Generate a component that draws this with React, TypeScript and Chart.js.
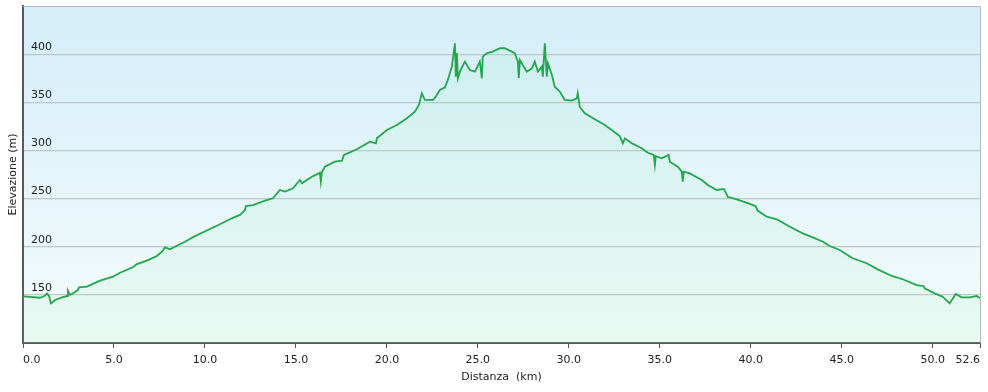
import { useEffect, useRef } from "react";
import { Chart, registerables } from "chart.js";

Chart.register(...registerables);

// Distance along the route (km)
const distanceKm = [
  0.0, 0.38, 0.93, 1.21, 1.32, 1.43, 1.54, 1.76, 2.14, 2.42, 2.47, 2.58, 2.69, 3.02, 3.08, 3.52,
  4.23, 4.95, 5.33, 6.04, 6.26, 6.81, 7.36, 7.69, 7.8, 8.08, 8.9, 9.45, 10.16, 10.55, 11.48,
  11.92, 12.2, 12.25, 12.64, 13.3, 13.74, 14.12, 14.4, 14.84, 15.22, 15.33, 15.88, 16.32, 16.37,
  16.43, 16.59, 17.14, 17.53, 17.64, 18.35, 19.07, 19.4, 19.45, 20.0, 20.55, 21.1, 21.54, 21.76,
  21.92, 22.09, 22.53, 22.69, 22.91, 23.19, 23.35, 23.57, 23.74, 23.79, 23.85, 23.9, 24.01,
  24.29, 24.56, 24.84, 25.11, 25.22, 25.27, 25.49, 25.82, 26.21, 26.48, 26.87, 27.03, 27.2,
  27.25, 27.31, 27.69, 27.97, 28.13, 28.3, 28.52, 28.57, 28.68, 28.79, 28.85, 29.07, 29.23,
  29.51, 29.78, 30.16, 30.44, 30.49, 30.6, 30.88, 31.43, 31.98, 32.36, 32.8, 32.97, 33.08,
  33.46, 34.01, 34.34, 34.67, 34.73, 34.78, 35.11, 35.49, 35.55, 35.99, 36.21, 36.26, 36.32,
  36.65, 37.31, 37.64, 38.13, 38.52, 38.74, 39.23, 39.95, 40.27, 40.38, 40.88, 41.43, 41.98,
  42.31, 42.86, 43.41, 43.96, 44.34, 44.89, 45.6, 46.37, 46.98, 47.75, 48.35, 49.12, 49.51,
  49.56, 50.11, 50.55, 50.93, 51.1, 51.26, 51.59, 52.03, 52.42, 52.6,
];

// Elevation (m)
const elevationM = [
  148.5, 147.8, 147.0, 149.0, 151.6, 149.0, 141.2, 144.7, 147.4, 148.8, 154.3, 150.0, 150.9, 155.0, 157.8, 158.5,
  164.7, 168.9, 173.0, 178.6, 182.0, 185.5, 190.4, 195.9, 199.4, 197.3, 205.2, 211.0, 217.4, 220.8, 229.5,
  233.0, 238.0, 242.3, 243.3, 247.8, 250.3, 258.9, 257.2, 260.7, 269.3, 265.9, 272.7, 276.9, 267.5,
  277.5, 283.1, 288.3, 289.3, 295.3, 301.2, 309.1, 307.4, 312.6, 321.2, 326.4, 333.4, 340.2, 347.2,
  359.3, 352.4, 352.4, 355.9, 362.8, 365.6, 373.2, 387.0, 411.3, 376.6, 401.0, 374.9, 381.8,
  392.2, 383.5, 381.8, 392.2, 374.9, 397.4, 400.9, 402.6, 406.1, 406.1, 402.6, 400.9, 392.2,
  374.9, 393.9, 381.8, 385.3, 392.2, 381.8, 387.0, 376.6, 411.3, 376.6, 390.4, 378.3, 366.2,
  361.0, 352.4, 351.7, 354.1, 359.3, 345.4, 338.5, 332.3, 326.4, 321.2, 315.0, 307.4, 312.6,
  307.4, 302.2, 297.6, 295.3, 284.9, 294.0, 291.8, 295.3, 288.3, 283.1, 277.9, 267.5, 278.0,
  276.2, 269.3, 264.1, 258.9, 260.0, 251.9, 249.2, 244.4, 242.0, 237.5, 231.2, 228.5, 222.6,
  219.1, 213.9, 209.7, 205.2, 200.7, 196.6, 188.0, 182.8, 176.5, 169.6, 166.2, 160.2, 159.0,
  156.8, 151.6, 148.1, 141.2, 146.0, 150.9, 147.4, 147.4, 148.8, 146.7,
];

const xTickValues = [0, 5, 10, 15, 20, 25, 30, 35, 40, 45, 50, 52.6];
const yTickValues = [150, 200, 250, 300, 350, 400];
const xTitle = "Distanza  (km)";
const yTitle = "Elevazione (m)";

const FONT = "'DejaVu Sans', Verdana, sans-serif";

const backgroundPlugin = {
  id: "plotBackground",
  beforeDraw(chart: any) {
    const { ctx, chartArea } = chart;
    if (!chartArea) return;
    const g = ctx.createLinearGradient(0, chartArea.top, 0, chartArea.bottom);
    g.addColorStop(0, "rgb(212,238,250)");
    g.addColorStop(1, "rgb(244,252,251)");
    ctx.save();
    ctx.fillStyle = g;
    ctx.fillRect(chartArea.left, chartArea.top, chartArea.right - chartArea.left, chartArea.bottom - chartArea.top);
    ctx.restore();
  },
  afterDraw(chart: any) {
    const { ctx, chartArea } = chart;
    ctx.save();
    ctx.strokeStyle = "#b4b9bc";
    ctx.lineWidth = 1;
    ctx.beginPath();
    ctx.moveTo(chartArea.left, chartArea.top + 0.5);
    ctx.lineTo(chartArea.right + 0.5, chartArea.top + 0.5);
    ctx.lineTo(chartArea.right + 0.5, chartArea.bottom);
    ctx.stroke();
    ctx.restore();
  },
};

export default function App() {
  const canvasRef = useRef<HTMLCanvasElement | null>(null);

  useEffect(() => {
    const canvas = canvasRef.current;
    if (!canvas) return;
    const chart = new Chart(canvas, {
      type: "line",
      data: {
        datasets: [
          {
            label: "Elevazione",
            data: distanceKm.map((x, i) => ({ x, y: elevationM[i] })),
            borderColor: "rgb(36,166,76)",
            borderWidth: 1.8,
            backgroundColor: "rgba(150,235,180,0.12)",
            fill: "start",
            pointRadius: 0,
            tension: 0,
          },
        ],
      },
      options: {
        animation: false,
        responsive: false,
        maintainAspectRatio: false,
        events: [],
        layout: { padding: { top: 6, right: 8, left: 0, bottom: 0 } },
        plugins: {
          legend: { display: false },
          tooltip: { enabled: false },
        },
        scales: {
          x: {
            type: "linear",
            min: 0,
            max: 52.6,
            afterBuildTicks: (scale: any) => {
              scale.ticks = xTickValues.map((v) => ({ value: v }));
            },
            afterFit: (scale: any) => {
              scale.height = 49;
              scale.paddingLeft = 0;
              scale.paddingRight = 0;
            },
            ticks: {
              autoSkip: false,
              maxRotation: 0,
              align: "inner",
              padding: 6,
              color: "#222",
              font: { family: FONT, size: 11 },
              callback: (v: any) => Number(v).toFixed(1),
            },
            grid: {
              drawOnChartArea: false,
              drawTicks: true,
              tickLength: 5,
              tickColor: "#555",
              tickWidth: 1,
            },
            border: { display: true, color: "#5a5a5a", width: 2 },
            title: {
              display: true,
              text: xTitle,
              color: "#222",
              font: { family: FONT, size: 11 },
              padding: { top: 0, bottom: 8 },
            },
          },
          y: {
            type: "linear",
            min: 100,
            max: 450,
            afterBuildTicks: (scale: any) => {
              scale.ticks = yTickValues.map((v) => ({ value: v }));
            },
            afterFit: (scale: any) => {
              scale.width = 23;
              scale.paddingTop = 0;
              scale.paddingBottom = 0;
            },
            ticks: {
              mirror: true,
              padding: 8,
              labelOffset: -7,
              color: "#222",
              font: { family: FONT, size: 11 },
              callback: (v: any) => String(v),
            },
            grid: {
              drawTicks: false,
              color: "rgb(190,198,202)",
              lineWidth: 1.2,
            },
            border: { display: true, color: "#5a5a5a", width: 2 },
            title: {
              display: true,
              text: yTitle,
              color: "#222",
              font: { family: FONT, size: 11 },
              padding: { top: 7, bottom: 0 },
            },
          },
        },
      },
      plugins: [backgroundPlugin],
    } as any);
    return () => chart.destroy();
  }, []);

  return (
    <div style={{ position: "fixed", left: 0, top: 0, width: 988, height: 392, background: "#fff" }}>
      <canvas ref={canvasRef} width={988} height={392} style={{ width: 988, height: 392, display: "block" }} />
    </div>
  );
}
